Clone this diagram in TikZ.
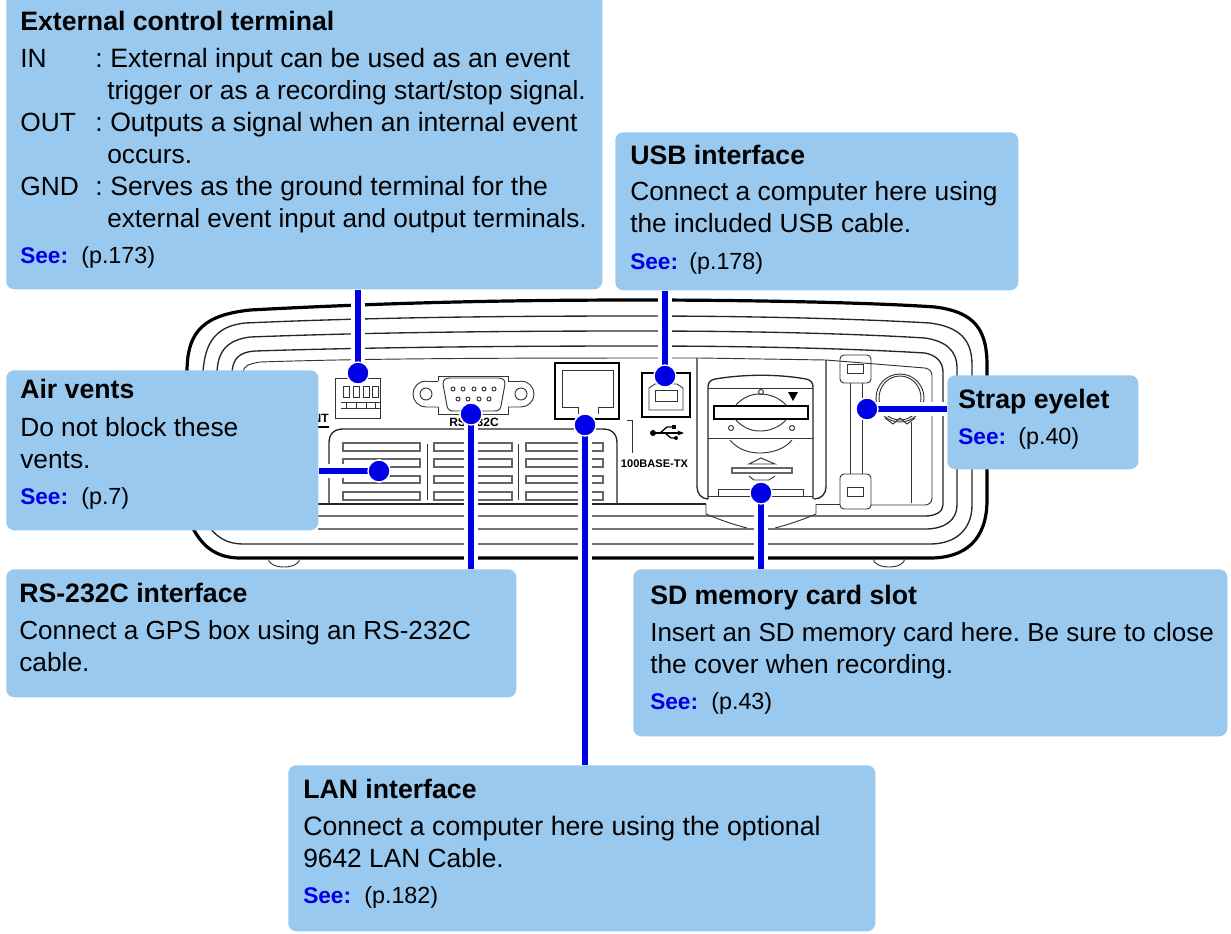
\documentclass[tikz,border=0pt]{standalone}
\usepackage{fontspec}
\setmainfont{Liberation Sans}
\usepackage{xcolor}
\usetikzlibrary{positioning, calc, arrows.meta}
\definecolor{calloutblue}{RGB}{153,201,239}
\definecolor{pointerblue}{RGB}{0,0,230}
\frenchspacing
\tikzset{
    callbox/.style={fill=calloutblue, rounded corners=6pt, inner sep=0pt, anchor=north west},
    headtext/.style={anchor=base west, inner sep=0pt, font=\fontsize{20}{24}\selectfont\bfseries},
    bodytext/.style={anchor=base west, inner sep=0pt, font=\fontsize{#1}{24}\selectfont},
    bodytext/.default=19.75,
    seetext/.style={anchor=base west, inner sep=0pt, text=pointerblue, font=\fontsize{17}{20}\selectfont\bfseries},
    pagetext/.style={anchor=base west, inner sep=0pt, font=\fontsize{17.5}{20}\selectfont},
    marktext/.style={inner sep=0pt, font=\fontsize{#1}{10}\selectfont\bfseries},
    marktext/.default=9,
    pointdot/.style={circle, fill=pointerblue, draw=white, line width=1pt, minimum size=16.5pt, inner sep=0pt},
    pointline/.style={preaction={draw=white, line width=10.5pt}, draw=pointerblue, line width=4.5pt},
    shell/.style={line width=2.4pt, black},
    ridge/.style={line width=1pt, black!85},
    thinpart/.style={line width=0.7pt, black!80},
    slot/.style={line width=0.9pt, black!60}
}
\begin{document}
\begin{tikzpicture}[x=0.75pt, y=-0.75pt, >=stealth]
    \useasboundingbox (0,0) rectangle (1231,933);

    % --- Case outline and ridges ---
    \draw[shell] (187,372) .. controls (187,330) and (205,315) .. (250,310) .. controls (400,302) and (520,300) .. (640,300) .. controls (760,300) and (880,303) .. (935,307) .. controls (975,312) and (987,330) .. (987,365) -- (987,500) .. controls (987,540) and (965,558) .. (930,558) -- (240,558) .. controls (215,558) and (200,545) .. (190,522);
    \draw[ridge] (203,372) .. controls (205,340) and (218,326) .. (245,323) .. controls (380,317) and (520,316) .. (640,316) .. controls (760,316) and (860,319) .. (930,323) .. controls (960,327) and (972,340) .. (972,365) -- (972,505) .. controls (972,530) and (955,544) .. (930,544) -- (243,544) .. controls (228,544) and (218,538) .. (210,528);
    \draw[ridge] (217,372) .. controls (218,350) and (228,340) .. (250,337) .. controls (380,332) and (520,331) .. (640,331) .. controls (760,331) and (860,334) .. (925,338) .. controls (945,341) and (957,350) .. (957,368) -- (957,505) .. controls (957,520) and (945,529) .. (925,529) -- (318,529);
    \draw[ridge] (232,372) .. controls (233,358) and (240,352) .. (255,351) .. controls (380,347) and (520,346) .. (640,346) .. controls (760,346) and (860,349) .. (925,353) .. controls (936,355) and (943,362) .. (943,372) -- (943,505) .. controls (943,512) and (935,516) .. (925,516) -- (318,516);
    \draw[thinpart] (243,372) .. controls (244,366) and (248,364) .. (260,362) .. controls (380,358) and (520,358) .. (700,358) -- (826,360) -- (925,368) .. controls (930,369) and (932,372) .. (932,376) -- (932,498) .. controls (932,503) and (928,505) .. (925,505) -- (871,505);

    % --- Feet ---
    \draw[thinpart] (268,558) .. controls (268,570) and (300,570) .. (300,558);
    \draw[thinpart] (873,558) .. controls (873,570) and (905,570) .. (905,558);

    % --- Event terminal ---
    \draw[thinpart] (335,378) rectangle (380,418);
    \foreach \px in {343,353,363,372} {
        \draw[thinpart] (\px,386) rectangle ++(6,11);
        \draw[thinpart] (\px-2,402) -- ++(10,0) (\px+3,402) -- ++(0,6) (\px-2,408) -- ++(10,0);
    }
    \node[marktext, anchor=east] (ntlabel) at (329,418) {NT};
    \draw[line width=1.5pt] (318,427) -- (329,427);

    % --- Vent panel ---
    \draw[ridge] (329,503) -- (329,443) .. controls (329,434) and (334,429) .. (343,429) -- (603,429) .. controls (612,429) and (617,434) .. (617,443) -- (617,503);
    \draw[ridge] (318,504) -- (706,504);
    \foreach \sx/\sw in {343/77, 434/78, 526/77} {
        \foreach \sy/\sh in {443/8, 459/8, 476/7, 492/8} {
            \draw[slot] (\sx,\sy) rectangle ++(\sw,\sh);
        }
    }
    \draw[thinpart] (427,444) -- (427,500);
    \draw[thinpart] (518,444) -- (518,500);

    % --- RS-232C connector ---
    \draw[thinpart] (426,381) arc[start angle=-90, end angle=-270, radius=13] -- (438,407);
    \draw[thinpart] (426,381) -- (438,381);
    \draw[thinpart] (426,394) circle (6);
    \draw[thinpart] (521,381) arc[start angle=-90, end angle=90, radius=13] -- (508,407);
    \draw[thinpart] (521,381) -- (508,381);
    \draw[thinpart] (521,394) circle (6);
    \draw[thinpart] (438,381) -- (438,376) -- (508,376) -- (508,381) (438,407) -- (438,414) -- (508,414) -- (508,407);
    \draw[thinpart] (443,384) .. controls (443,379) and (446,378) .. (450,378) -- (498,378) .. controls (502,378) and (505,379) .. (505,384) -- (501,406) .. controls (500,410) and (498,411) .. (494,411) -- (454,411) .. controls (450,411) and (448,410) .. (447,406) -- cycle;
    \foreach \px in {453,463,474,484,494} {
        \draw[thinpart] (\px,389) circle (2);
    }
    \foreach \px in {458,468,479,489} {
        \draw[thinpart] (\px,399) circle (2);
    }
    \node[marktext] (rslabel) at (474,422) {RS-232C};

    % --- LAN jack ---
    \draw[line width=1.3pt] (578,419) -- (555,419) -- (555,363) -- (619,363) -- (619,419) -- (592,419);
    \draw[thinpart] (578,414) -- (578,407) -- (562,407) -- (562,370) -- (613,370) -- (613,407) -- (598,407) -- (598,414);
    \draw[thinpart] (627,420) -- (632,420) -- (632,453);
    \node[marktext=8.3] (lanlabel) at (654.5,464) {100BASE-TX};

    % --- USB jack ---
    \draw[line width=1.1pt] (642,373) -- (642,417) -- (690,417) -- (690,373) -- cycle;
    \draw[thinpart] (649,388) -- (655,384) -- (677,384) -- (683,388) -- (683,410) -- (649,410) -- cycle;
    \draw[thinpart] (655,390) rectangle (677,401);
    \fill (653,433) circle (3);
    \draw[line width=1pt, -{Stealth[length=5pt]}] (653,433) -- (684,433);
    \draw[line width=1pt] (660,433) -- (667,427) -- (672,427) (665,433) -- (671,438) -- (675,438);
    \fill (672,425) rectangle (676,429);
    \fill (676,438) circle (2);

    % --- SD card door ---
    \draw[ridge] (697,358) -- (697,487) .. controls (697,494) and (702,499) .. (708,499) (826,360) -- (826,487) .. controls (826,494) and (821,499) .. (814,499);
    \draw[ridge] (708,499) -- (708,387) .. controls (708,383) and (710,380) .. (715,379) .. controls (745,374) and (778,374) .. (806,379) .. controls (811,380) and (813,383) .. (813,387) -- (813,499);
    \draw[thinpart] (708,388) -- (813,388) (708,438) -- (813,438) (708,496) -- (813,496);
    \draw[line width=1.3pt] (714,406) rectangle (808,419);
    \draw[thinpart] (735,406) .. controls (742,398) and (750,394) .. (760,394) .. controls (770,394) and (780,398) .. (787,406);
    \draw[thinpart] (735,419) .. controls (742,427) and (750,431) .. (760,431) .. controls (770,431) and (780,427) .. (787,419);
    \draw[thinpart] (730,440) .. controls (738,450) and (750,453) .. (760,453) .. controls (770,453) and (784,450) .. (792,440);
    \fill (788,392) -- (798,392) -- (793,401) -- cycle;
    \draw[thinpart] (731,428) circle (2.5);
    \draw[thinpart] (792,428) circle (2.5);
    \draw[thinpart] (761,392) circle (2.5);
    \draw[thinpart] (749,464) -- (761,458) -- (775,464) -- cycle;
    \draw[slot] (732,468) rectangle (792,473);
    \draw[thinpart] (749,476) -- (754,480) -- (769,480) -- (775,476);
    \draw[thinpart] (718,496) -- (718,489) -- (803,489) -- (803,496);
    \draw[thinpart] (706,504) -- (706,514) .. controls (720,520) and (735,525) .. (747,528);
    \draw[thinpart] (816,504) -- (816,514) .. controls (802,520) and (787,525) .. (775,528);
    \draw[thinpart] (816,504) -- (840,504);

    % --- Strap eyelet ---
    \draw[thinpart, rounded corners=3pt] (840,355) rectangle (871,383);
    \draw[thinpart] (847,364) rectangle (863,373);
    \draw[thinpart, rounded corners=3pt] (840,474) rectangle (871,509);
    \draw[thinpart] (847,487) rectangle (863,496);
    \draw[thinpart] (850,383) -- (850,474) (862,383) -- (862,474);
    \draw[thinpart] (900,398) ellipse (24 and 24);
    \draw[thinpart] (900,398) ellipse (21 and 22);
    \draw[thinpart] (885,418) -- (893,424) -- (900,418) -- (907,424) -- (915,418);
    \draw[thinpart] (911,422) -- (911,503);

    % --- Pointer dots ---
    \node[pointdot] (extdot) at (358,373) {};
    \node[pointdot] (rsdot) at (471,414) {};
    \node[pointdot] (landot) at (585,425) {};
    \node[pointdot] (ventdot) at (379,471) {};
    \node[pointdot] (usbdot) at (665,376) {};
    \node[pointdot] (sddot) at (761,493) {};
    \node[pointdot] (strapdot) at (867,409) {};

    % --- Callout boxes ---
    \node[callbox, minimum width=447pt, minimum height=222.75pt] (extbox) at (6,-8) {};
    \node[callbox, minimum width=302.25pt, minimum height=118.5pt] (usbbox) at (615,132) {};
    \node[callbox, minimum width=234pt, minimum height=120pt] (ventbox) at (6,370) {};
    \node[callbox, minimum width=143.25pt, minimum height=70.5pt] (strapbox) at (947,375) {};
    \node[callbox, minimum width=382.5pt, minimum height=96pt] (rsbox) at (6,569) {};
    \node[callbox, minimum width=445.5pt, minimum height=125.25pt] (sdbox) at (633,569) {};
    \node[callbox, minimum width=440.25pt, minimum height=124.5pt] (lanbox) at (288,765) {};

    % --- Pointer lines ---
    \draw[pointline] (extdot.center) -- (extdot.center |- extbox.south);
    \draw[pointline] (rsdot.center) -- (rsdot.center |- rsbox.north);
    \draw[pointline] (landot.center) -- (landot.center |- lanbox.north);
    \draw[pointline] (ventdot.center) -- (ventdot.center -| ventbox.east);
    \draw[pointline] (usbdot.center) -- (usbdot.center |- usbbox.south);
    \draw[pointline] (sddot.center) -- (sddot.center |- sdbox.north);
    \draw[pointline] (strapdot.center) -- (strapdot.center -| strapbox.west);
    \node[pointdot] at (extdot) {};
    \node[pointdot] at (rsdot) {};
    \node[pointdot] at (landot) {};
    \node[pointdot] at (ventdot) {};
    \node[pointdot] at (usbdot) {};
    \node[pointdot] at (sddot) {};
    \node[pointdot] at (strapdot) {};

    % --- External control terminal ---
    \node[headtext] (exthead) at (20,30) {External control terminal};
    \node[bodytext] (inname) at (20,67) {IN};
    \node[bodytext] (incolon) at (95,67) {:};
    \node[bodytext=19.95] (inone) at (110,67) {External input can be used as an event};
    \node[bodytext] (intwo) at (107,99) {trigger or as a recording start/stop signal.};
    \node[bodytext] (outname) at (20,131) {OUT};
    \node[bodytext] (outcolon) at (95,131) {:};
    \node[bodytext=19.95] (outone) at (110,131) {Outputs a signal when an internal event};
    \node[bodytext] (outtwo) at (107,163) {occurs.};
    \node[bodytext] (gndname) at (20,195) {GND};
    \node[bodytext] (gndcolon) at (95,195) {:};
    \node[bodytext=19.95] (gndone) at (110,195) {Serves as the ground terminal for the};
    \node[bodytext=19.6] (gndtwo) at (107,227) {external event input and output terminals.};
    \node[seetext] (extsee) at (20,263) {See:};
    \node[pagetext] (extpage) at (81,263) {(p.173)};

    % --- USB interface ---
    \node[headtext] (usbhead) at (630,164) {USB interface};
    \node[bodytext] (usbone) at (630,200) {Connect a computer here using};
    \node[bodytext] (usbtwo) at (630,232) {the included USB cable.};
    \node[seetext] (usbsee) at (630,269) {See:};
    \node[pagetext] (usbpage) at (689,269) {(p.178)};

    % --- Air vents ---
    \node[headtext] (venthead) at (20,398) {Air vents};
    \node[bodytext] (ventone) at (20,436) {Do not block these};
    \node[bodytext] (venttwo) at (20,468) {vents.};
    \node[seetext] (ventsee) at (20,504) {See:};
    \node[pagetext] (ventpage) at (81,504) {(p.7)};

    % --- Strap eyelet ---
    \node[headtext] (straphead) at (958,408) {Strap eyelet};
    \node[seetext] (strapsee) at (958,444) {See:};
    \node[pagetext] (strappage) at (1018,444) {(p.40)};

    % --- RS-232C interface ---
    \node[headtext] (rshead) at (19,602) {RS-232C interface};
    \node[bodytext=19.6] (rsone) at (19,639) {Connect a GPS box using an RS-232C};
    \node[bodytext] (rstwo) at (19,671) {cable.};

    % --- SD memory card slot ---
    \node[headtext] (sdhead) at (650,604) {SD memory card slot};
    \node[bodytext=19.5] (sdone) at (650,641) {Insert an SD memory card here. Be sure to close};
    \node[bodytext] (sdtwo) at (650,673) {the cover when recording.};
    \node[seetext] (sdsee) at (650,709) {See:};
    \node[pagetext] (sdpage) at (711,709) {(p.43)};

    % --- LAN interface ---
    \node[headtext] (lanhead) at (303,798) {LAN interface};
    \node[bodytext=20] (lanone) at (303,835) {Connect a computer here using the optional};
    \node[bodytext] (lantwo) at (303,867) {9642 LAN Cable.};
    \node[seetext] (lansee) at (303,903) {See:};
    \node[pagetext] (lanpage) at (364,903) {(p.182)};

\end{tikzpicture}
\end{document}
